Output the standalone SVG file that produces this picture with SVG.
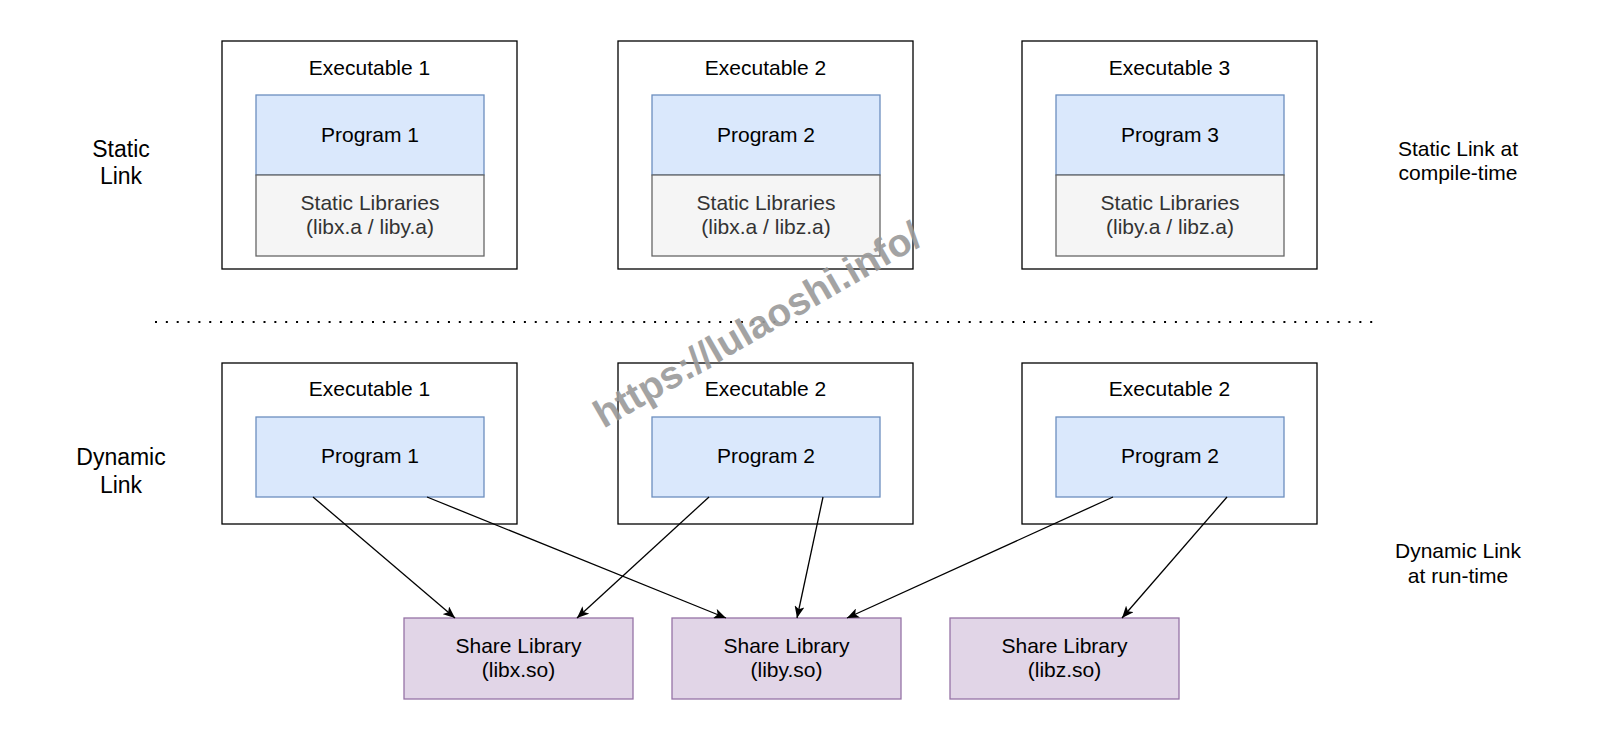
<svg xmlns="http://www.w3.org/2000/svg" width="1600" height="741" viewBox="0 0 1600 741">
<defs>
<style>
.outer{fill:#ffffff;stroke:#000000;stroke-width:1.3}
.prog{fill:#dae8fc;stroke:#6c8ebf;stroke-width:1.3}
.slib{fill:#f5f5f5;stroke:#666666;stroke-width:1.3}
.share{fill:#e1d5e7;stroke:#9673a6;stroke-width:1.3}
text{font-family:"Liberation Sans",Arial,Helvetica,sans-serif;font-size:21px;fill:#000000;text-anchor:middle}
.gray{fill:#333333}
.side{font-size:23px}
.edge{fill:none;stroke:#000000;stroke-width:1.3}
.wm{font-weight:bold;font-size:39px;fill:#9a9a9a;opacity:0.9}
</style>
<marker id="arr" viewBox="0 0 12 10" refX="12" refY="5" markerWidth="12" markerHeight="10" markerUnits="userSpaceOnUse" orient="auto">
<path d="M0,0 L12,5 L0,10 L3,5 Z" fill="#000000"/>
</marker>
</defs>
<rect width="1600" height="741" fill="#ffffff"/>

<g id="label-static"><text class="side" x="121" y="157">Static</text><text class="side" x="121" y="184">Link</text></g>
<g id="label-dynamic"><text class="side" x="121" y="465">Dynamic</text><text class="side" x="121" y="493">Link</text></g>
<g id="label-static-right"><text x="1458" y="156">Static Link at</text><text x="1458" y="180">compile-time</text></g>
<g id="label-dynamic-right"><text x="1458" y="558">Dynamic Link</text><text x="1458" y="583">at run-time</text></g>

<g id="static-exe1">
<rect class="outer" x="222" y="41" width="295" height="228"/>
<text x="369.5" y="74.5">Executable 1</text>
<rect class="prog" x="256" y="95" width="228" height="80"/>
<text x="370" y="141.5">Program 1</text>
<rect class="slib" x="256" y="175" width="228" height="81"/>
<text class="gray" x="370" y="210">Static Libraries</text>
<text class="gray" x="370" y="234">(libx.a / liby.a)</text>
</g>
<g id="static-exe2">
<rect class="outer" x="618" y="41" width="295" height="228"/>
<text x="765.5" y="74.5">Executable 2</text>
<rect class="prog" x="652" y="95" width="228" height="80"/>
<text x="766" y="141.5">Program 2</text>
<rect class="slib" x="652" y="175" width="228" height="81"/>
<text class="gray" x="766" y="210">Static Libraries</text>
<text class="gray" x="766" y="234">(libx.a / libz.a)</text>
</g>
<g id="static-exe3">
<rect class="outer" x="1022" y="41" width="295" height="228"/>
<text x="1169.5" y="74.5">Executable 3</text>
<rect class="prog" x="1056" y="95" width="228" height="80"/>
<text x="1170" y="141.5">Program 3</text>
<rect class="slib" x="1056" y="175" width="228" height="81"/>
<text class="gray" x="1170" y="210">Static Libraries</text>
<text class="gray" x="1170" y="234">(liby.a / libz.a)</text>
</g>

<g id="separator">
<line x1="155" y1="322" x2="1375" y2="322" stroke="#000000" stroke-width="2" stroke-dasharray="2 8.85"/>
</g>

<g id="dyn-exe1">
<rect class="outer" x="222" y="363" width="295" height="161"/>
<text x="369.5" y="396">Executable 1</text>
<rect class="prog" x="256" y="417" width="228" height="80"/>
<text x="370" y="463">Program 1</text>
</g>
<g id="dyn-exe2">
<rect class="outer" x="618" y="363" width="295" height="161"/>
<text x="765.5" y="396">Executable 2</text>
<rect class="prog" x="652" y="417" width="228" height="80"/>
<text x="766" y="463">Program 2</text>
</g>
<g id="dyn-exe3">
<rect class="outer" x="1022" y="363" width="295" height="161"/>
<text x="1169.5" y="396">Executable 2</text>
<rect class="prog" x="1056" y="417" width="228" height="80"/>
<text x="1170" y="463">Program 2</text>
</g>

<g id="share-libx">
<rect class="share" x="404" y="618" width="229" height="81"/>
<text x="518.5" y="653">Share Library</text>
<text x="518.5" y="677">(libx.so)</text>
</g>
<g id="share-liby">
<rect class="share" x="672" y="618" width="229" height="81"/>
<text x="786.5" y="653">Share Library</text>
<text x="786.5" y="677">(liby.so)</text>
</g>
<g id="share-libz">
<rect class="share" x="950" y="618" width="229" height="81"/>
<text x="1064.5" y="653">Share Library</text>
<text x="1064.5" y="677">(libz.so)</text>
</g>

<g id="connectors">
<line class="edge" x1="313" y1="497" x2="455" y2="618" marker-end="url(#arr)"/>
<line class="edge" x1="427" y1="497" x2="726" y2="618" marker-end="url(#arr)"/>
<line class="edge" x1="709" y1="497" x2="577" y2="618" marker-end="url(#arr)"/>
<line class="edge" x1="823" y1="497" x2="797" y2="618" marker-end="url(#arr)"/>
<line class="edge" x1="1113" y1="497" x2="847" y2="618" marker-end="url(#arr)"/>
<line class="edge" x1="1227" y1="497" x2="1122" y2="618" marker-end="url(#arr)"/>
</g>

<g id="watermark">
<text class="wm" transform="translate(757,324) rotate(-30)" x="0" y="14">https://lulaoshi.info/</text>
</g>
</svg>
